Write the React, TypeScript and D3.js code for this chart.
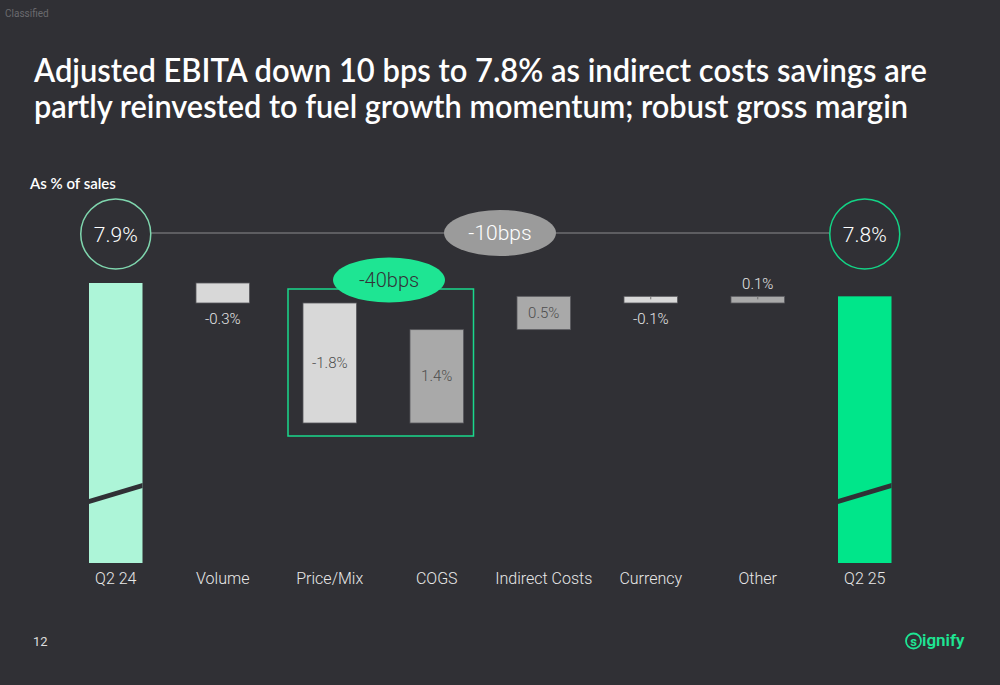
import React, { useEffect } from 'react';
import * as d3 from 'd3';

// chart data
const categories = ['Q2 24', 'Volume', 'Price/Mix', 'COGS', 'Indirect Costs', 'Currency', 'Other', 'Q2 25'];
const startValue = 7.9;
const deltas = [-0.3, -1.8, 1.4, 0.5, -0.1, 0.1];
const deltaLabels = ['-0.3%', '-1.8%', '1.4%', '0.5%', '-0.1%', '0.1%'];
const totalLabels = ['7.9%', '7.8%'];
const totalChange = '-10bps';
const groupChange = '-40bps';
const groupCategories = ['Price/Mix', 'COGS'];
const axisFloor = 3.7; // value where the broken total bars end

const W = 1000;
const H = 685;
const BG = '#303035';
const FONT = 'Roboto, "Liberation Sans", Arial, sans-serif';
const TITLE_FONT = 'Lato, "Open Sans", sans-serif';

export default function App() {
  useEffect(() => {
    document.body.style.margin = '0';
    document.body.style.background = BG;
  }, []);

  const x = d3
    .scaleBand<string>()
    .domain(categories)
    .range([62.25, 918.25])
    .paddingInner(0.5)
    .paddingOuter(0.25);
  const bw = x.bandwidth();
  const cx = (c: string) => (x(c) as number) + bw / 2;

  const y = d3.scaleLinear().domain([axisFloor, startValue]).range([563, 283]);

  // cumulative waterfall steps
  const cum = [startValue];
  deltas.forEach((d) => cum.push(+(cum[cum.length - 1] + d).toFixed(2)));
  const endValue = cum[cum.length - 1];

  const steps = deltas.map((d, i) => {
    const from = cum[i];
    const to = cum[i + 1];
    return {
      cat: categories[i + 1],
      delta: d,
      label: deltaLabels[i],
      top: y(Math.max(from, to)),
      bottom: y(Math.min(from, to)),
    };
  });

  const totals = [
    { cat: categories[0], value: startValue, label: totalLabels[0], fill: '#adf5d8', ring: '#7fd6ae' },
    { cat: categories[categories.length - 1], value: endValue, label: totalLabels[1], fill: '#00e68a', ring: '#13d486' },
  ];

  const circleY = 234;
  const r = 35;

  // group box around Price/Mix and COGS
  const g0 = x(groupCategories[0]) as number;
  const g1 = (x(groupCategories[groupCategories.length - 1]) as number) + bw;
  const groupSteps = steps.filter((s) => groupCategories.includes(s.cat));
  const boxTop = d3.min(groupSteps, (s) => s.top)! - 14;
  const boxBottom = d3.max(groupSteps, (s) => s.bottom)! + 13;
  const boxLeft = g0 - 15;
  const boxRight = g1 + 10;

  return (
    <svg width={W} height={H} style={{ display: 'block', background: BG }}>
      <rect width={W} height={H} fill={BG} />
      <text x={5} y={17} fill="#6a6a6e" fontSize={10} fontFamily={FONT}>
        Classified
      </text>

      <text
        x={34}
        y={82}
        fill="#ffffff"
        fontSize={33}
        fontWeight={600}
        fontFamily={TITLE_FONT}
        textLength={893}
        lengthAdjust="spacingAndGlyphs"
      >
        Adjusted EBITA down 10 bps to 7.8% as indirect costs savings are
      </text>
      <text
        x={34}
        y={118}
        fill="#ffffff"
        fontSize={33}
        fontWeight={600}
        fontFamily={TITLE_FONT}
        textLength={874}
        lengthAdjust="spacingAndGlyphs"
      >
        partly reinvested to fuel growth momentum; robust gross margin
      </text>

      <text x={30} y={189} fill="#ffffff" fontSize={15} fontWeight={600} fontFamily={TITLE_FONT}>
        As % of sales
      </text>

      {/* connector between totals */}
      <line
        x1={cx(totals[0].cat) + r}
        x2={cx(totals[1].cat) - r}
        y1={circleY - 1}
        y2={circleY - 1}
        stroke="#8a8a8e"
        strokeWidth={1.2}
      />
      <ellipse cx={500} cy={circleY - 1} rx={56} ry={23} fill="#9b9b9b" />
      <text
        x={500}
        y={circleY + 6}
        textAnchor="middle"
        fill="#ffffff"
        fontSize={21}
        fontWeight={300}
        fontFamily={FONT}
      >
        {totalChange}
      </text>

      {/* total bars */}
      {totals.map((t) => {
        const x0 = x(t.cat) as number;
        const breakY = 493;
        return (
          <g key={t.cat}>
            <rect x={x0} y={y(t.value)} width={bw} height={y(axisFloor) - y(t.value)} fill={t.fill} />
            <polygon
              points={`${x0},${breakY + 6} ${x0 + bw},${breakY - 10} ${x0 + bw},${breakY - 5} ${x0},${breakY + 11}`}
              fill={BG}
            />
            <circle cx={cx(t.cat)} cy={circleY} r={r} fill="none" stroke={t.ring} strokeWidth={1.5} />
            <text
              x={cx(t.cat)}
              y={circleY + 8}
              textAnchor="middle"
              fill="#ffffff"
              fontSize={21}
              fontWeight={300}
              fontFamily={FONT}
            >
              {t.label}
            </text>
          </g>
        );
      })}

      {/* step bars */}
      {steps.map((s) => {
        const x0 = x(s.cat) as number;
        const h = s.bottom - s.top;
        const small = Math.abs(s.delta) < 0.4;
        const fill = s.delta < 0 ? '#d8d8d8' : '#a9a9a9';
        let ly = s.top + h / 2 + 5;
        let lc = '#4d4d4d';
        if (small) {
          lc = '#e6e6e6';
          ly = s.delta < 0 ? s.bottom + 21 : s.top - 7;
        }
        return (
          <g key={s.cat}>
            <rect x={x0} y={s.top} width={bw} height={h} fill={fill} stroke="#58585c" strokeWidth={0.8} />
            {h < 10 && (
              <line x1={cx(s.cat)} x2={cx(s.cat)} y1={s.top} y2={s.top + 3} stroke="#707070" strokeWidth={1} />
            )}
            <text
              x={cx(s.cat)}
              y={ly}
              textAnchor="middle"
              fill={lc}
              fontSize={15}
              fontWeight={300}
              fontFamily={FONT}
            >
              {s.label}
            </text>
          </g>
        );
      })}

      {/* group highlight */}
      <rect
        x={boxLeft}
        y={boxTop}
        width={boxRight - boxLeft}
        height={boxBottom - boxTop}
        fill="none"
        stroke="#19d88c"
        strokeWidth={1.5}
      />
      <ellipse cx={389} cy={boxTop - 9} rx={56} ry={22.5} fill="#1ee593" />
      <text
        x={389}
        y={boxTop - 2}
        textAnchor="middle"
        fill="#333338"
        fontSize={20}
        fontWeight={300}
        fontFamily={FONT}
      >
        {groupChange}
      </text>

      {/* category labels */}
      {categories.map((c) => (
        <text
          key={c}
          x={cx(c)}
          y={584}
          textAnchor="middle"
          fill="#e8e8e8"
          fontSize={16}
          fontWeight={300}
          fontFamily={FONT}
        >
          {c}
        </text>
      ))}

      <text x={33} y={646} fill="#dddddd" fontSize={13} fontFamily={FONT}>
        12
      </text>

      {/* logo */}
      <g>
        <circle cx={913.5} cy={641} r={7.5} fill="none" stroke="#1ee593" strokeWidth={1.8} />
        <text x={913.5} y={645.5} textAnchor="middle" fill="#1ee593" fontSize={13} fontWeight={700} fontFamily={FONT}>
          s
        </text>
        <text x={922} y={646} fill="#1ee593" fontSize={17} fontWeight={600} fontFamily={FONT}>
          ignify
        </text>
      </g>
    </svg>
  );
}
